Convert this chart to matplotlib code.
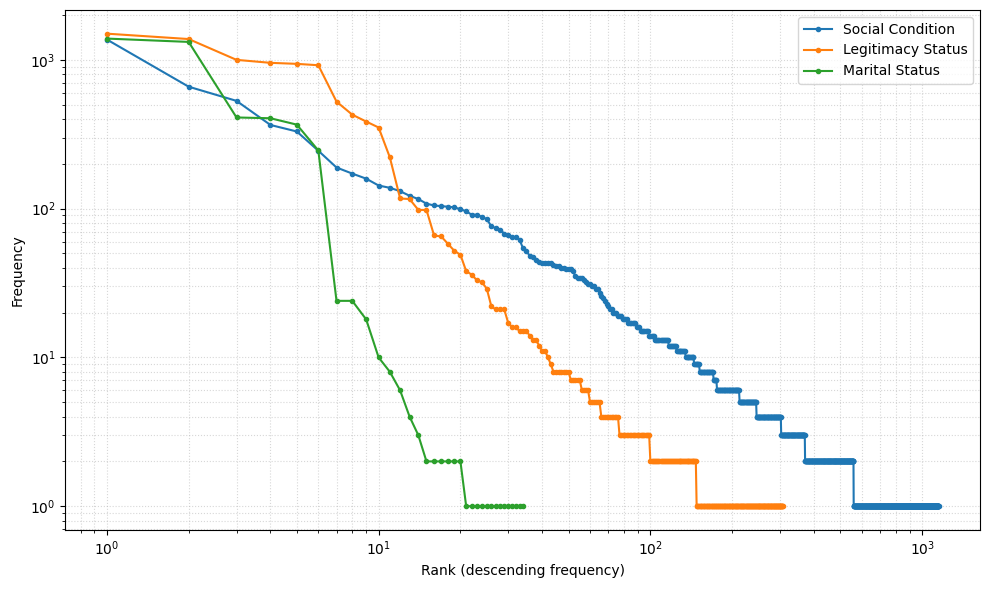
import numpy as np
import matplotlib
matplotlib.use("Agg")
import matplotlib.pyplot as plt

# Frequencies in descending order, stored as (value, repeat count) runs
social_values = [1370, 660, 530, 365, 330, 245, 189, 172, 159, 143, 138, 131, 122, 116,
                 108, 105, 104, 103, 102, 99, 96, 91, 91, 88, 85, 76, 74, 72, 68, 66,
                 64, 64, 62, 54, 52, 48, 47, 45, 44,
                 43, 42, 41, 40, 39, 38, 35, 34, 33, 32, 31, 30, 29, 27, 26, 25, 24,
                 23, 22, 21, 20, 19, 18, 17, 16, 15, 14, 13, 12, 11, 10, 9, 8, 7, 6,
                 5, 4, 3, 2, 1]
social_counts = [1] * 39 + [4, 1, 2, 2, 3, 1, 1, 3, 1, 1, 2, 2, 2, 1, 1, 1, 1,
                            1, 1, 2, 3, 3, 4, 6, 3, 7, 5, 13, 8, 10, 10, 7, 19, 5, 37,
                            33, 57, 68, 189, 590]

legit_values = [1500, 1380, 1000, 955, 940, 920, 524, 428, 385, 351, 221, 117, 116, 98,
                98, 66, 65, 58, 52, 49, 38, 36, 33, 32, 29, 22, 21, 21, 21, 17, 16, 16,
                15, 15, 15, 14, 13, 13, 12, 11, 11, 10, 9,
                8, 7, 6, 5, 4, 3, 2, 1]
legit_counts = [1] * 43 + [7, 5, 4, 6, 11, 23, 48, 160]

marital_values = [1390, 1320, 410, 405, 367, 246, 24, 24, 18, 10, 8, 6, 4, 3, 2, 1]
marital_counts = [1] * 14 + [6, 14]

series = [
    ("Social Condition", social_values, social_counts),
    ("Legitimacy Status", legit_values, legit_counts),
    ("Marital Status", marital_values, marital_counts),
]

plt.figure(figsize=(9.89, 5.9), dpi=100)
for name, vals, counts in series:
    freq = np.repeat(vals, counts)
    rank = np.arange(1, len(freq) + 1)
    plt.loglog(rank, freq, marker='o', markersize=3, label=name)

plt.xlabel('Rank (descending frequency)')
plt.ylabel('Frequency')
plt.grid(True, which='both', linestyle=':', linewidth=0.8, alpha=0.5)
plt.legend()
plt.subplots_adjust(left=0.066, right=0.991, top=0.983, bottom=0.102)
plt.savefig('out.png', dpi=100)
